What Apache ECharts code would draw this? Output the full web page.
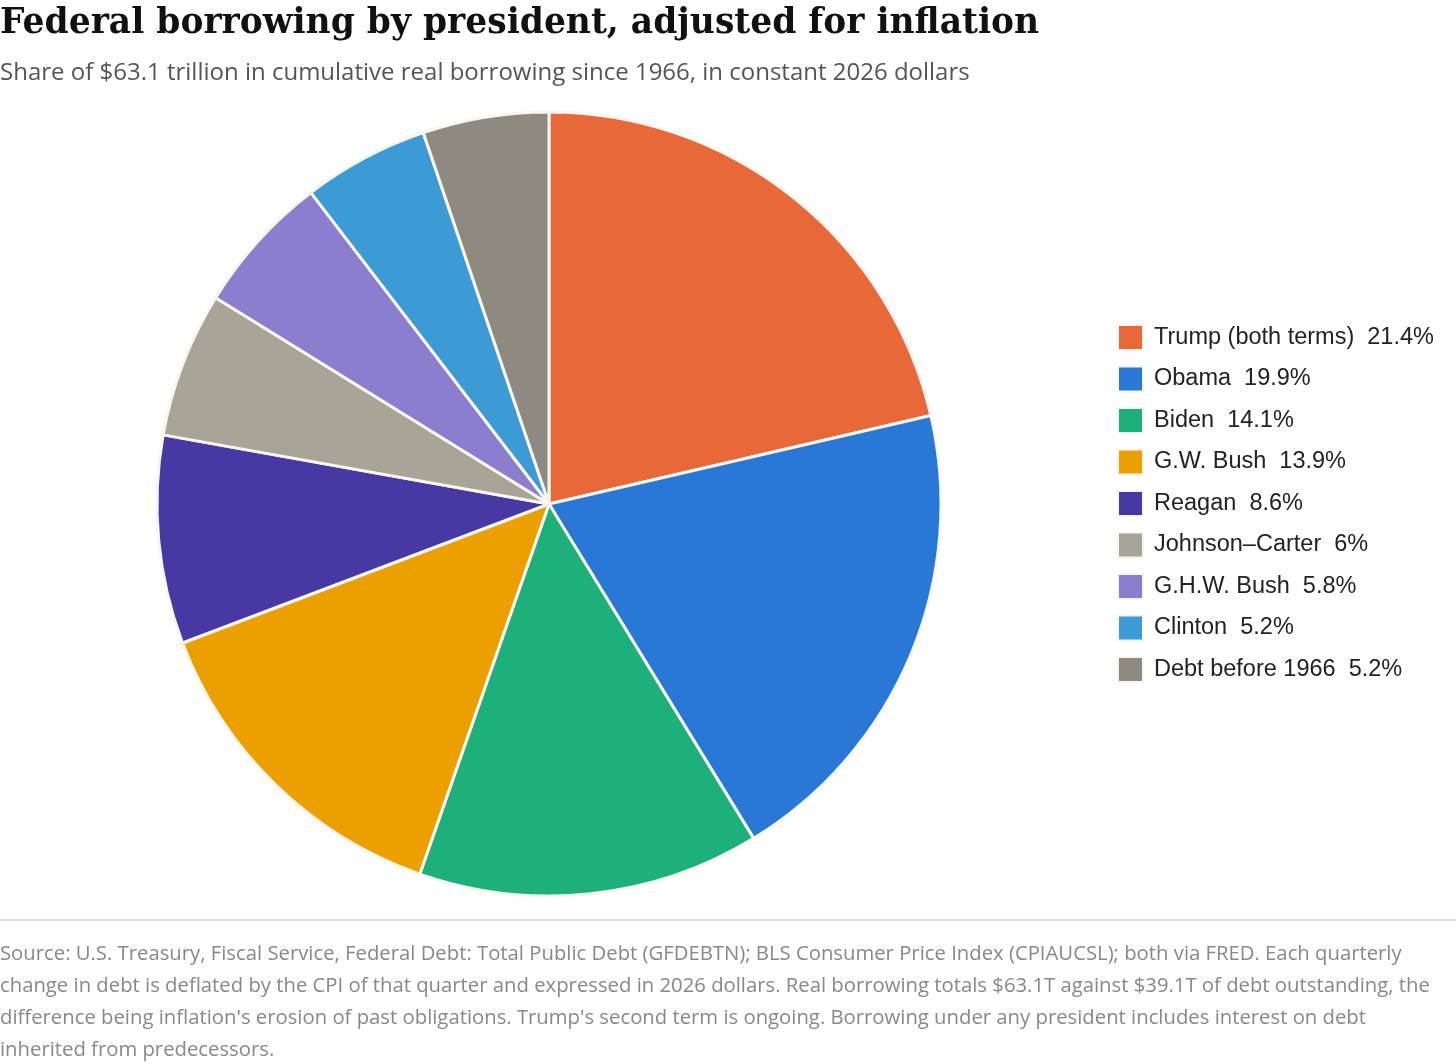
<!DOCTYPE html>
<html><head><meta charset="utf-8">
<script src="https://cdn.jsdelivr.net/npm/echarts@6/dist/echarts.min.js"></script>
<style>html,body{margin:0;padding:0;background:#fff}#c{width:1456px;height:1064px}</style>
</head><body><div id="c"></div>
<script>
const categories = ["Trump (both terms)","Obama","Biden","G.W. Bush","Reagan","Johnson\u2013Carter","G.H.W. Bush","Clinton","Debt before 1966"];
const shares = [21.4,19.9,14.1,13.9,8.6,6,5.8,5.2,5.2];
const colors = ["#E8683A","#2A78D6","#1DB07A","#EBA000","#4838A4","#A8A498","#8B7ECF","#3C9AD4","#8E8A82"];
const titleText = "Federal borrowing by president, adjusted for inflation";
const subtitleText = "Share of $63.1 trillion in cumulative real borrowing since 1966, in constant 2026 dollars";
const sourceText = "Source: U.S. Treasury, Fiscal Service, Federal Debt: Total Public Debt (GFDEBTN); BLS Consumer Price Index (CPIAUCSL); both via FRED. Each quarterly\nchange in debt is deflated by the CPI of that quarter and expressed in 2026 dollars. Real borrowing totals $63.1T against $39.1T of debt outstanding, the\ndifference being inflation's erosion of past obligations. Trump's second term is ongoing. Borrowing under any president includes interest on debt\ninherited from predecessors.";

const chart = echarts.init(document.getElementById('c'), null, {renderer:'canvas'});
const shareMap = {};
categories.forEach((c,i)=>shareMap[c]=shares[i]);
chart.setOption({
  animation:false,
  color: colors,
  title:[
    {text:titleText,left:0,top:7,padding:0,textStyle:{fontFamily:'DejaVu Serif',fontWeight:'bold',fontSize:34.5,color:'#111'}},
    {text:subtitleText,left:0,top:61,padding:0,textStyle:{fontFamily:'Open Sans',fontWeight:'normal',fontSize:24,color:'#555'}}
  ],
  legend:{
    orient:'vertical',left:1117,top:324,padding:0,itemWidth:25,itemHeight:25,itemGap:14.5,
    icon:'rect',
    textStyle:{fontFamily:'Liberation Sans',fontSize:23.5,color:'#222',padding:[0,0,0,6]},
    formatter:n=>n+'  '+shareMap[n]+'%',
    data:categories
  },
  series:[{
    type:'pie',center:[549,504],radius:[0,392],startAngle:90,clockwise:true,
    label:{show:false},labelLine:{show:false},emphasis:{disabled:true},
    itemStyle:{borderColor:'#F8F6F1',borderWidth:3},
    data:categories.map((c,i)=>({name:c,value:shares[i]}))
  }],
  graphic:[
    {type:'line',shape:{x1:0,y1:920,x2:1456,y2:920},style:{stroke:'#d6d6d0',lineWidth:1.5}},
    {type:'text',left:0,top:938,style:{text:sourceText,fontFamily:'Open Sans',fontSize:20.3,lineHeight:32,fill:'#888'}}
  ]
});
</script></body></html>
